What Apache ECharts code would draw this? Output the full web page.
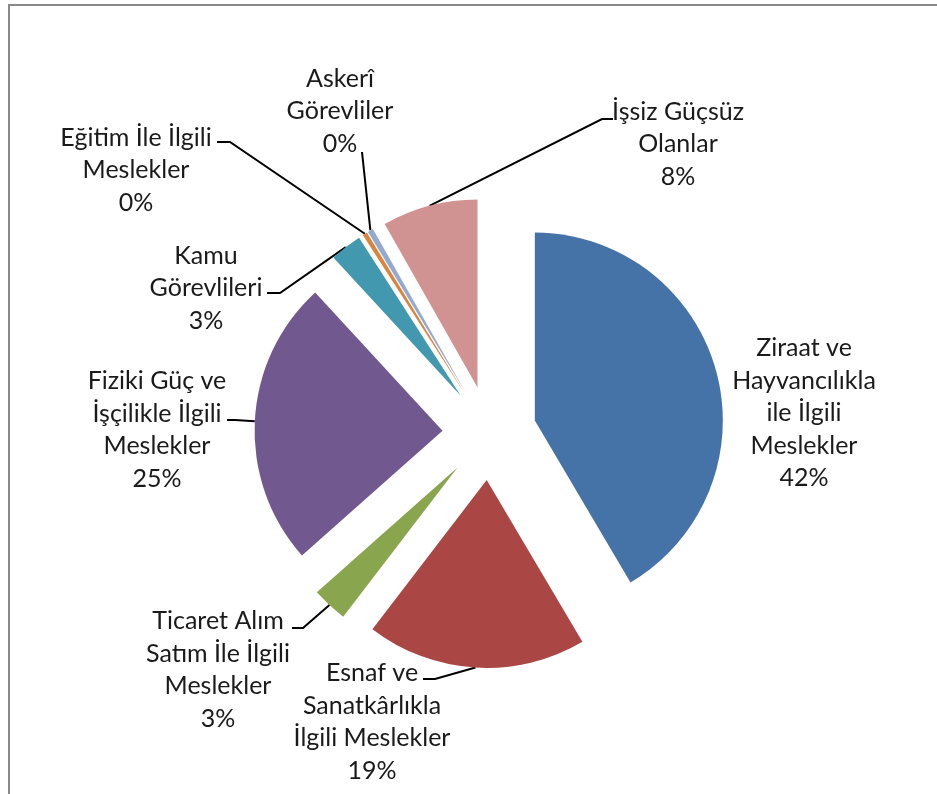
<!DOCTYPE html>
<html>
<head>
<meta charset="utf-8">
<script src="https://cdn.jsdelivr.net/npm/echarts@6/dist/echarts.min.js"></script>
<style>
html,body{margin:0;padding:0;background:#fff;}
#chart{width:937px;height:794px;}
</style>
</head>
<body>
<div id="chart"></div>
<script>
// ---- data ----
const categories = [
  'Ziraat ve Hayvancılıkla ile İlgili Meslekler',
  'Esnaf ve Sanatkârlıkla İlgili Meslekler',
  'Ticaret Alım Satım İle İlgili Meslekler',
  'Fiziki Güç ve İşçilikle İlgili Meslekler',
  'Kamu Görevlileri',
  'Eğitim İle İlgili Meslekler',
  'Askerî Görevliler',
  'İşsiz Güçsüz Olanlar'
];
const shares = [41.5, 18.9, 3.05, 24.7, 2.75, 0.4, 0.48, 8.22];
const labelText = [
  'Ziraat ve\nHayvancılıkla\nile İlgili\nMeslekler',
  'Esnaf ve\nSanatkârlıkla\nİlgili Meslekler',
  'Ticaret Alım\nSatım İle İlgili\nMeslekler',
  'Fiziki Güç ve\nİşçilikle İlgili\nMeslekler',
  'Kamu\nGörevlileri',
  'Eğitim İle İlgili\nMeslekler',
  'Askerî\nGörevliler',
  'İşsiz Güçsüz\nOlanlar'
];
const colors = ['#4572A7', '#AA4643', '#89A54E', '#71588F', '#4198AF', '#DB843D', '#93A9CF', '#D19392'];

// ---- layout / style ----
const CENTER = [489.5, 433];
const RADIUS = 188;
const OFFSET = 47;
// label block centre, leader-line end point, elbow horizontal length (sign = direction to elbow)
const labelSpec = [
  {x: 804, y: 413, end: null, elbow: 0},
  {x: 372, y: 722, end: [423, 679], elbow: 12},
  {x: 218, y: 670, end: [292, 628], elbow: 11},
  {x: 157, y: 430, end: [227, 420], elbow: 8},
  {x: 206, y: 288, end: [267, 293], elbow: 13},
  {x: 136, y: 170, end: [217, 142], elbow: 13},
  {x: 340, y: 111, end: [362, 152], elbow: 0},
  {x: 678, y: 144, end: [613, 119], elbow: -11}
];

const total = shares.reduce((a, b) => a + b, 0);
function anchorPoint(i) {
  let cum = 0;
  for (let k = 0; k < i; k++) cum += shares[k];
  const th = (cum + shares[i] / 2) / total * 2 * Math.PI;
  const s = Math.sin(th), c = Math.cos(th);
  return [CENTER[0] + (OFFSET + RADIUS) * s, CENTER[1] - (OFFSET + RADIUS) * c];
}

const chart = echarts.init(document.getElementById('chart'), null, {renderer: 'canvas'});
const option = {
  animation: false,
  backgroundColor: '#ffffff',
  graphic: [{
    type: 'rect',
    shape: {x: 9, y: 5, width: 1000, height: 1000},
    style: {fill: 'none', stroke: '#888888', lineWidth: 2},
    silent: true
  }],
  series: [{
    // exploded slices
    type: 'pie',
    center: CENTER,
    radius: RADIUS,
    startAngle: 90,
    clockwise: true,
    selectedMode: 'multiple',
    selectedOffset: OFFSET,
    emphasis: {disabled: true},
    itemStyle: {borderWidth: 0},
    label: {show: false},
    labelLine: {show: false},
    data: categories.map((name, i) => ({
      name: name,
      value: shares[i],
      selected: true,
      itemStyle: {color: colors[i]},
      select: {itemStyle: {color: colors[i]}}
    }))
  }, {
    // data labels and leader lines
    type: 'pie',
    center: CENTER,
    radius: RADIUS,
    startAngle: 90,
    clockwise: true,
    silent: true,
    avoidLabelOverlap: false,
    emphasis: {disabled: true},
    itemStyle: {color: 'rgba(0,0,0,0)', borderWidth: 0},
    label: {
      show: true,
      position: 'outside',
      fontFamily: 'Lato',
      fontSize: 25,
      lineHeight: 32.5,
      color: '#1a1a1a',
      align: 'center',
      formatter: p => labelText[p.dataIndex] + '\n' + Math.round(p.percent) + '%'
    },
    labelLine: {show: true, lineStyle: {color: '#000', width: 2}},
    labelLayout: function (params) {
      const i = params.dataIndex;
      const sp = labelSpec[i];
      const res = {x: sp.x, y: sp.y, align: 'center', verticalAlign: 'middle'};
      if (sp.end) {
        const a = anchorPoint(i);
        const e = sp.end;
        const el = [e[0] + sp.elbow, e[1]];
        res.labelLinePoints = [a, el, e];
      }
      return res;
    },
    data: categories.map((name, i) => ({
      name: name,
      value: shares[i],
      labelLine: {show: i !== 0}
    }))
  }]
};
chart.setOption(option);
</script>
</body>
</html>
